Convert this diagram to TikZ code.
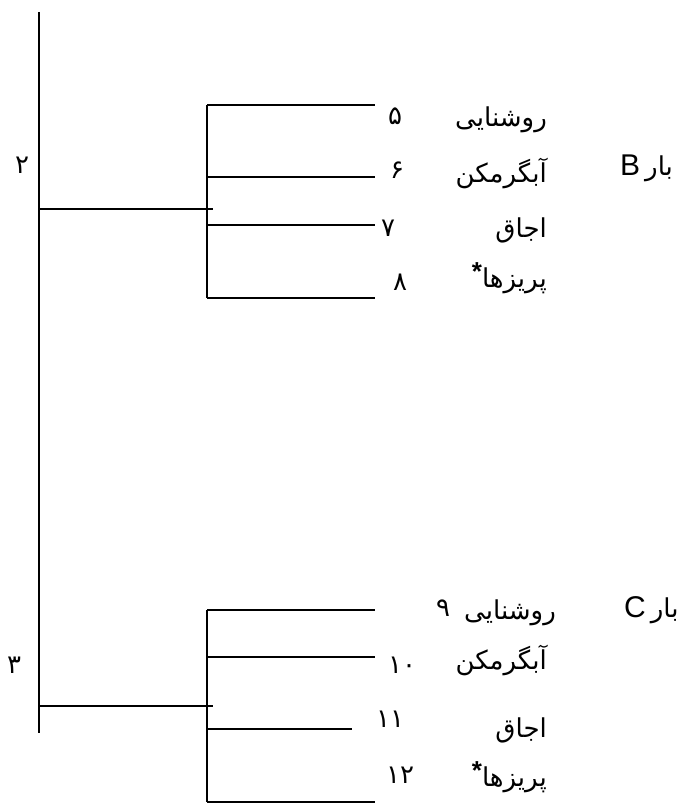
\documentclass[tikz,border=0pt]{standalone}
\usepackage{fontspec}
\newfontfamily\farsi[Script=Arabic]{DejaVu Sans}
\newfontfamily\latin{Liberation Sans}
\TeXXeTstate=1
\usetikzlibrary{positioning}

\begin{document}
\begin{tikzpicture}
    [
      x=1pt, y=-1pt,
      wire/.style={line width=2pt},
      num/.style={font=\farsi\fontsize{26}{26}\selectfont, inner sep=0pt},
      item/.style={font=\farsi\fontsize{26}{26}\selectfont, inner sep=0pt, anchor=east},
      busname/.style={inner sep=0pt, anchor=west}
    ]
    \useasboundingbox (0,0) rectangle (692,805);
    % main line
    \coordinate (mtop) at (39,12);
    \coordinate (mbot) at (39,733);
    \draw [line width=2.8pt] (mtop) -- (mbot);
    \node [num] (n2) at (22,165) {۲};
    \node [num] (n3) at (14,665) {۳};
    % load B
    \coordinate (bj) at (39,209);
    \coordinate (bk) at (213,209);
    \coordinate (btop) at (207,105);
    \coordinate (bbot) at (207,298);
    \draw [wire] (bj) -- (bk);
    \draw [wire] (btop) -- (bbot);
    \foreach \y/\e in {105/375,177/375,225/375,298/375} {
        \draw [wire] (207,\y) -- (\e,\y);
    }
    \node [num] (n5) at (395,116) {۵};
    \node [num] (n6) at (397,170) {۶};
    \node [num] (n7) at (388,228) {۷};
    \node [num] (n8) at (400,282) {۸};
    \node [item] (t5) at (547,120) {\beginR روشنایی\endR};
    \node [item] (t6) at (547,173) {\beginR آبگرمکن\endR};
    \node [item] (t7) at (547,230) {\beginR اجاق\endR};
    \node [item] (t8) at (547,278) {\raisebox{7pt}{\latin\bfseries *}\beginR پریزها\endR};
    \node [busname] (lb) at (620,168)
        {{\latin\fontsize{30}{30}\selectfont B}\hspace{5pt}{\farsi\fontsize{26}{26}\selectfont\beginR بار\endR}};
    % load C
    \coordinate (cj) at (39,706);
    \coordinate (ck) at (213,706);
    \coordinate (ctop) at (207,610);
    \coordinate (cbot) at (207,802);
    \draw [wire] (cj) -- (ck);
    \draw [wire] (ctop) -- (cbot);
    \foreach \y/\e in {610/375,657/375,729/352,802/375} {
        \draw [wire] (207,\y) -- (\e,\y);
    }
    \node [num] (n9) at (443,608) {۹};
    \node [num] (n10) at (402,665) {۱۰};
    \node [num] (n11) at (390,719) {۱۱};
    \node [num] (n12) at (400,775) {۱۲};
    \node [item] (t9) at (556,613) {\beginR روشنایی\endR};
    \node [item] (t10) at (547,660) {\beginR آبگرمکن\endR};
    \node [item] (t11) at (547,730) {\beginR اجاق\endR};
    \node [item] (t12) at (547,777) {\raisebox{7pt}{\latin\bfseries *}\beginR پریزها\endR};
    \node [busname] (lc) at (624,610)
        {{\latin\fontsize{30}{30}\selectfont C}\hspace{5pt}{\farsi\fontsize{26}{26}\selectfont\beginR بار\endR}};
\end{tikzpicture}
\end{document}
